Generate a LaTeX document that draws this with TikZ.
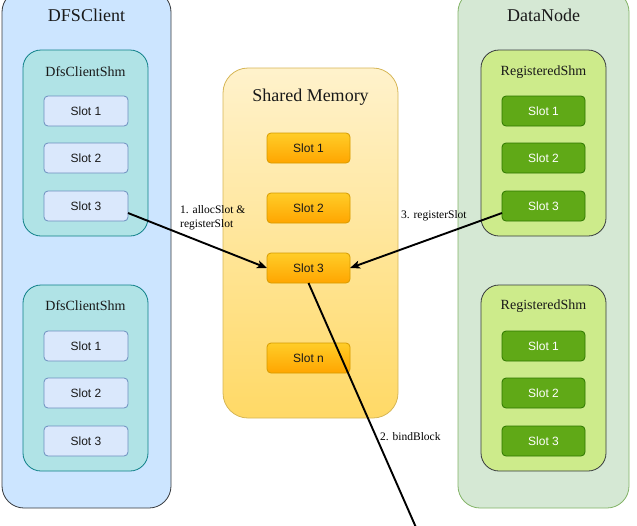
\documentclass[tikz,border=0pt]{standalone}
\usepackage{fontspec}
\setmainfont{Liberation Serif}
\newfontfamily\slotfont{Liberation Sans}
\usetikzlibrary{arrows.meta}
\definecolor{cliFill}{HTML}{CCE5FF}
\definecolor{cliLine}{HTML}{36393D}
\definecolor{shmFill}{HTML}{B0E3E6}
\definecolor{shmLine}{HTML}{0E8088}
\definecolor{bslFill}{HTML}{DAE8FC}
\definecolor{bslLine}{HTML}{6C8EBF}
\definecolor{smTop}{HTML}{FFF2CC}
\definecolor{smBot}{HTML}{FFD966}
\definecolor{smLine}{HTML}{D6B656}
\definecolor{oslTop}{HTML}{FFCD28}
\definecolor{oslBot}{HTML}{FFA500}
\definecolor{oslLine}{HTML}{D79B00}
\definecolor{dnFill}{HTML}{D5E8D4}
\definecolor{dnLine}{HTML}{82B366}
\definecolor{regFill}{HTML}{CDEB8B}
\definecolor{regLine}{HTML}{36393D}
\definecolor{gslFill}{HTML}{60A917}
\definecolor{gslLine}{HTML}{2D7600}
\begin{document}
\begin{tikzpicture}[x=1pt,y=-1pt,
  area/.style={rounded corners=22pt, line width=0.8pt, inner sep=0pt, outer sep=0pt, anchor=north west},
  inner/.style={rounded corners=18pt, line width=0.8pt, inner sep=0pt, outer sep=0pt, anchor=north west, minimum width=125pt, minimum height=186pt},
  slotbase/.style={rounded corners=4pt, line width=0.8pt, inner sep=0pt, outer sep=0pt, minimum width=84pt, minimum height=30pt, font=\slotfont\fontsize{12}{14}\selectfont},
  bslot/.style={slotbase, draw=bslLine, fill=bslFill, text=black!90},
  oslot/.style={slotbase, minimum width=83pt, draw=oslLine, top color=oslTop, bottom color=oslBot, text=black!90},
  gslot/.style={slotbase, minimum width=83pt, draw=gslLine, fill=gslFill, text=white},
  bigtitle/.style={font=\fontsize{18}{20}\selectfont, text=black!90},
  subtitle/.style={font=\fontsize{14}{16}\selectfont, text=black!90},
  lbl/.style={font=\fontsize{11.5}{14}\selectfont, text=black, inner sep=0pt, anchor=west, align=left},
  conn/.style={line width=1.9pt, black},
  arr/.style={conn, -{Stealth[length=10pt,width=8pt,inset=2.5pt]}}
]
\useasboundingbox (0,0) rectangle (637,525);

% DFSClient
\node[area, draw=cliLine, fill=cliFill, minimum width=169pt, minimum height=518pt] (cli) at (2,-10) {};
\node[bigtitle] (clit) at (86.5,15) {DFSClient};
\node[inner, draw=shmLine, fill=shmFill] (csa) at (23,50) {};
\node[subtitle] (csat) at (85.5,72) {DfsClientShm};
\node[bslot] (ca1) at (86,111) {Slot 1};
\node[bslot] (ca2) at (86,158) {Slot 2};
\node[bslot] (ca3) at (86,206) {Slot 3};
\node[inner, draw=shmLine, fill=shmFill] (csb) at (23,285) {};
\node[subtitle] (csbt) at (85.5,306) {DfsClientShm};
\node[bslot] (cb1) at (86,346) {Slot 1};
\node[bslot] (cb2) at (86,393) {Slot 2};
\node[bslot] (cb3) at (86,441) {Slot 3};

% Shared Memory
\node[area, rounded corners=25pt, draw=smLine, top color=smTop, bottom color=smBot, minimum width=175pt, minimum height=350pt] (sm) at (223,68) {};
\node[bigtitle] (smt) at (310.5,97) {Shared Memory};
\node[oslot] (m1) at (308.5,148) {Slot 1};
\node[oslot] (m2) at (308.5,208) {Slot 2};
\node[oslot] (m3) at (308.5,268) {Slot 3};
\node[oslot] (mn) at (308.5,358) {Slot n};

% DataNode
\node[area, draw=dnLine, fill=dnFill, minimum width=171pt, minimum height=518pt] (dn) at (458,-10) {};
\node[bigtitle] (dnt) at (543.5,15) {DataNode};
\node[inner, draw=regLine, fill=regFill] (rsa) at (481,50) {};
\node[subtitle] (rsat) at (543.5,72) {RegisteredShm};
\node[gslot] (ga1) at (543.5,111) {Slot 1};
\node[gslot] (ga2) at (543.5,158) {Slot 2};
\node[gslot] (ga3) at (543.5,206) {Slot 3};
\node[inner, draw=regLine, fill=regFill] (rsb) at (481,285) {};
\node[subtitle] (rsbt) at (543.5,306) {RegisteredShm};
\node[gslot] (gb1) at (543.5,346) {Slot 1};
\node[gslot] (gb2) at (543.5,393) {Slot 2};
\node[gslot] (gb3) at (543.5,441) {Slot 3};

% connectors
\draw[arr] ([yshift=-7pt]ca3.east) -- (m3.west);
\draw[arr] ([yshift=-7pt]ga3.west) -- (m3.east);
\coordinate (e2) at (418,532);
\draw[conn] (m3.south) -- (e2);

% labels
\node[lbl] (l1) at (180,218) {1. allocSlot \&\\registerSlot};
\node[lbl] (l3) at (401,216) {3. registerSlot};
\node[lbl] (l2) at (380,437) {2. bindBlock};
\end{tikzpicture}
\end{document}
